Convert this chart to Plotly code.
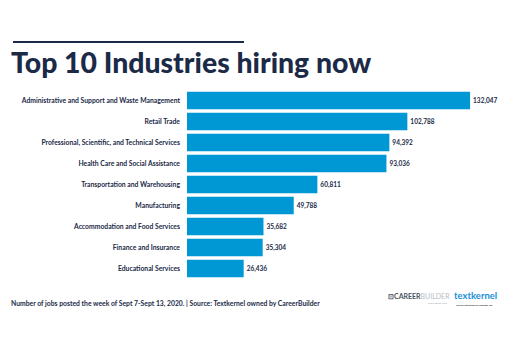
import plotly.graph_objects as go

industries = [
    "Administrative and Support and Waste Management",
    "Retail Trade",
    "Professional, Scientific, and Technical Services",
    "Health Care and Social Assistance",
    "Transportation and Warehousing",
    "Manufacturing",
    "Accommodation and Food Services",
    "Finance and Insurance",
    "Educational Services",
]
jobs = [132047, 102788, 94392, 93036, 60811, 49788, 35682, 35304, 26436]

title = "Top 10 Industries hiring now"
source_note = ("Number of jobs posted the week of Sept 7-Sept 13, 2020. "
               "| Source: Textkernel owned by CareerBuilder")

NAVY = "#1b2a47"
BLUE = "#0098d4"
FONT = "Lato, 'Open Sans', sans-serif"

W, H = 515, 344
ML, MR, MT, MB = 187, 0, 90, 65
PW, PH = W - ML - MR, H - MT - MB


def px(x):
    return (x - ML) / PW


def py(y):
    return (H - MB - y) / PH


def note(text, x, y, size, color, weight="normal", anchor="left"):
    return dict(text=text, xref="paper", yref="paper", x=px(x), y=py(y),
                xanchor=anchor, yanchor="middle", showarrow=False,
                font=dict(family=FONT, size=size, color=color, weight=weight))


fig = go.Figure(
    go.Bar(
        x=jobs,
        y=industries,
        orientation="h",
        marker=dict(color=BLUE, line=dict(width=0)),
        text=[f"{v:,}" for v in jobs],
        textposition="outside",
        textfont=dict(family=FONT, size=6.5, color=NAVY, weight="bold"),
        cliponaxis=False,
    )
)

fig.update_layout(
    width=W,
    height=H,
    margin=dict(l=ML, r=MR, t=MT, b=MB),
    paper_bgcolor="white",
    plot_bgcolor="white",
    bargap=0.17,
    showlegend=False,
    font=dict(family=FONT, color=NAVY),
    xaxis=dict(visible=False, range=[0, 153000]),
    yaxis=dict(
        autorange="reversed",
        showgrid=False,
        showline=False,
        ticks="",
        ticklabelstandoff=6,
        tickfont=dict(family=FONT, size=6.8, color=NAVY, weight="bold"),
    ),
    shapes=[
        dict(type="line", xref="paper", yref="paper",
             x0=px(13), x1=px(244), y0=py(42), y1=py(42),
             line=dict(color=NAVY, width=2)),
    ],
    annotations=[
        note(title, 9, 62, 28.4, NAVY, weight=900),
        note(source_note, 9, 303, 6.8, NAVY, weight="bold"),
        note("<b>⊡CAREER</b><span style='color:#b8bdc6'>BUILDER</span>",
             386, 296, 7, "#4a5160"),
        note("Work Starts Here", 450, 303.5, 2.5, "#9aa0aa", anchor="right"),
        note("textkernel", 452, 295.5, 9.5, "#1a8fd8", weight="bold"),
        note("Further Extraction & Semantic Job", 454, 305, 2.4, "#333333",
             weight="bold"),
    ],
)

fig.write_html("out.html")
